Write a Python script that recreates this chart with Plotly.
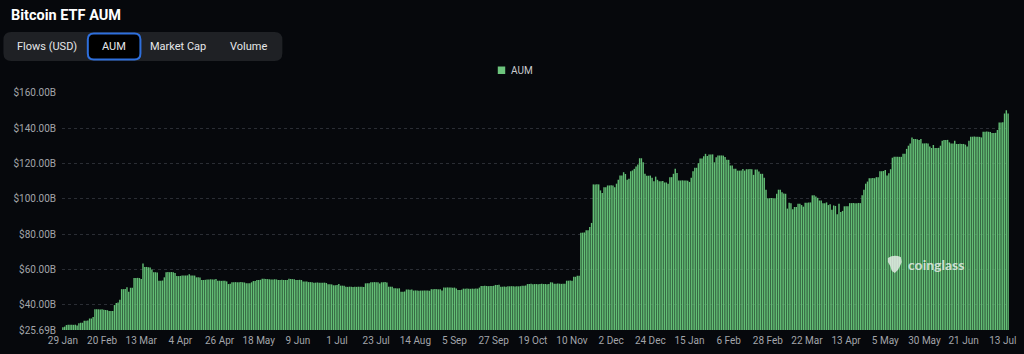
import plotly.graph_objects as go
import pandas as pd

# ---------------- data ----------------
all_days = pd.date_range("2024-01-29", "2025-07-16", freq="D")
missing_days = ["2025-05-11", "2025-05-18", "2025-05-25"]
dates = [d.strftime("%Y-%m-%d") for d in all_days if d.strftime("%Y-%m-%d") not in missing_days]

aum_billion = [
    # 2024-01-29 ...
    27.2, 27.6, 28.5, 28.7, 28.7, 28.7, 28.6, 28.7, 28.2, 29.5,
    29.8, 29.8, 30.9, 30.9, 31.0, 32.2, 32.2, 33.0, 37.4, 37.4,
    37.4, 37.3, 37.4, 37.2, 37.0, 36.9, 36.5, 36.5, 36.5, 39.8,
    41.0, 41.2, 42.8, 48.8, 48.8, 48.9, 49.9, 47.4, 49.6, 49.6,
    55.1, 55.1, 55.2, 55.1, 54.6, 63.3, 61.4, 61.4, 61.2, 61.0,
    59.9, 58.4, 58.4, 58.3, 53.6, 53.6, 53.7, 55.5, 58.4, 58.5,
    58.4, 58.5, 58.4, 58.0, 56.2, 56.2, 56.3, 56.6, 56.6, 56.5,
    56.6, 57.3, 56.6, 56.6, 56.5, 55.5, 55.5, 55.4, 54.0, 54.0,
    54.1, 54.3, 54.3, 54.4, 54.3, 54.3, 54.6, 53.6, 53.6, 53.5,
    53.6, 53.6, 53.2, 51.7, 51.8, 52.7, 52.7, 52.8, 52.7, 52.7,
    52.8, 52.7, 52.6, 52.1, 52.1, 52.1, 52.7, 53.4, 53.4, 54.0,
    54.0, 54.1, 54.7, 54.7, 54.6, 54.5, 54.4, 54.3, 54.3, 54.4,
    54.3, 54.0, 54.0, 54.1, 54.0, 54.0, 54.0, 54.7, 54.5, 54.5,
    54.4, 54.0, 54.0, 54.1, 54.0, 53.2, 53.2, 53.1, 52.8, 52.8,
    52.7, 52.5, 52.5, 52.6, 52.5, 52.5, 52.4, 52.5, 52.3, 51.6,
    51.6, 51.5, 51.0, 51.0, 51.1, 51.7, 50.8, 50.8, 50.7, 50.1,
    50.1, 50.2, 50.1, 50.0, 50.1, 50.1, 50.2, 50.1, 50.1, 50.0,
    52.1, 52.2, 52.1, 52.7, 52.7, 52.8, 52.7, 52.7, 52.0, 52.7,
    52.7, 52.8, 52.6, 50.2, 50.2, 50.1, 49.3, 49.3, 49.2, 49.3,
    47.4, 47.4, 47.5, 48.6, 48.6, 48.5, 48.6, 48.0, 48.1, 48.0,
    47.9, 48.0, 48.0, 48.1, 48.0, 48.0, 47.9, 48.8, 48.8, 48.9,
    48.8, 48.7, 48.8, 48.0, 49.7, 49.7, 49.8, 49.7, 49.7, 49.6,
    49.7, 49.2, 48.4, 48.4, 48.5, 49.1, 49.1, 49.2, 49.1, 49.0,
    49.1, 49.1, 49.2, 49.1, 49.7, 50.6, 50.6, 50.7, 50.6, 50.5,
    50.6, 50.6, 50.7, 51.2, 51.2, 51.3, 50.2, 50.2, 50.3, 50.2,
    50.4, 50.4, 50.5, 50.4, 50.3, 50.4, 50.4, 50.5, 50.8, 50.8,
    50.9, 51.7, 51.7, 51.8, 51.6, 51.7, 51.7, 51.6, 51.7, 51.8,
    51.7, 51.7, 51.6, 51.7, 52.7, 52.6, 51.9, 51.9, 52.0, 51.9,
    51.8, 51.9, 51.9, 53.6, 53.6, 53.7, 53.6, 55.8, 55.8, 56.4,
    56.4, 80.8, 80.8, 80.9, 82.1, 82.1, 84.0, 86.3, 108.1, 108.1,
    108.2, 108.1, 104.7, 103.2, 106.5, 106.5, 107.5, 107.5, 107.6, 107.5,
    106.5, 108.5, 110.7, 113.1, 113.1, 115.0, 114.0, 110.7, 111.3, 115.6,
    116.0, 116.9, 118.2, 119.3, 122.9, 122.9, 120.6, 114.1, 113.0, 113.0,
    113.1, 111.8, 109.9, 112.5, 110.7, 109.9, 109.9, 110.0, 109.2, 109.2,
    108.5, 112.2, 112.2, 114.1, 116.9, 114.5, 110.3, 110.3, 110.4, 110.3,
    110.3, 110.2, 109.5, 111.8, 115.6, 117.5, 117.5, 120.1, 122.7, 122.7,
    124.0, 125.4, 124.2, 125.0, 125.0, 125.1, 120.6, 123.5, 124.4, 124.4,
    124.5, 124.4, 123.6, 122.0, 122.0, 118.8, 118.8, 116.9, 116.9, 115.9,
    115.9, 116.0, 116.8, 115.9, 116.7, 116.7, 116.8, 116.7, 113.5, 116.5,
    116.5, 115.4, 114.1, 114.1, 111.8, 105.1, 100.3, 100.3, 100.4, 100.3,
    100.3, 102.8, 105.1, 105.1, 103.7, 103.0, 102.8, 94.4, 97.7, 97.5,
    94.1, 95.3, 95.3, 97.2, 97.2, 96.4, 95.5, 97.7, 97.7, 97.8,
    97.9, 101.9, 101.9, 101.2, 100.5, 99.0, 99.0, 97.5, 97.5, 97.9,
    96.4, 96.8, 93.8, 96.2, 95.9, 91.2, 97.2, 92.5, 93.1, 95.7,
    95.7, 95.8, 97.5, 97.5, 97.6, 97.5, 97.5, 97.6, 97.5, 101.9,
    105.1, 108.5, 109.7, 111.6, 111.6, 111.7, 111.6, 112.2, 112.2, 115.6,
    115.6, 115.7, 116.3, 113.1, 114.4, 116.7, 123.2, 123.7, 123.7, 123.8,
    123.7, 123.7, 125.4, 125.4, 128.2, 130.0, 131.3, 134.7, 133.8, 133.8,
    133.6, 133.2, 133.8, 131.3, 131.3, 131.4, 131.3, 129.5, 128.7, 130.4,
    128.7, 128.7, 128.8, 130.0, 132.8, 133.2, 133.2, 133.3, 131.9, 131.3,
    131.3, 132.8, 131.0, 131.0, 131.1, 131.0, 131.0, 130.6, 129.5, 132.8,
    135.1, 135.1, 135.2, 135.1, 135.1, 135.0, 134.7, 137.9, 137.9, 138.0,
    137.9, 137.8, 137.2, 137.2, 137.3, 138.9, 143.2, 143.2, 143.3, 148.2,
    150.1, 148.2,
]
assert len(aum_billion) == len(dates), (len(aum_billion), len(dates))

tick_dates = dates[::22]
tick_labels = [f"{pd.Timestamp(d).day} {pd.Timestamp(d).strftime('%b')}" for d in tick_dates]
y_ticks = [25.69, 40, 60, 80, 100, 120, 140, 160]
y_tick_labels = ["$25.69B", "$40.00B", "$60.00B", "$80.00B", "$100.00B",
                 "$120.00B", "$140.00B", "$160.00B"]
tab_labels = ["Flows (USD)", "AUM", "Market Cap", "Volume"]
tab_centers_px = [47, 114, 179, 250]

# ---------------- layout geometry (pixels) ----------------
W, H = 1024, 354
L, R, T, B = 62, 8, 92, 24
PW, PH = W - L - R, H - T - B
BG = "#06080c"
GREEN = "rgba(100,192,118,0.99)"
FONT = "Roboto, 'Noto Sans', sans-serif"


def px(xp):
    return (xp - L) / PW


def py(yp):
    return (H - B - yp) / PH


def rounded_rect(x0, y0, x1, y1, r):
    rx = r / PW
    ry = r / PH
    X0, X1 = px(x0), px(x1)
    Y0, Y1 = py(y0), py(y1)  # Y0 top (larger), Y1 bottom
    return (f"M{X0+rx},{Y0} L{X1-rx},{Y0} Q{X1},{Y0} {X1},{Y0-ry} "
            f"L{X1},{Y1+ry} Q{X1},{Y1} {X1-rx},{Y1} L{X0+rx},{Y1} "
            f"Q{X0},{Y1} {X0},{Y1+ry} L{X0},{Y0-ry} Q{X0},{Y0} {X0+rx},{Y0} Z")


fig = go.Figure()
fig.add_trace(go.Bar(
    x=dates, y=aum_billion, name="AUM",
    marker=dict(color=GREEN, line=dict(width=0)),
    showlegend=False,
    hovertemplate="%{x}<br>$%{y:.2f}B<extra></extra>",
))

shapes = [
    dict(type="path", xref="paper", yref="paper", path=rounded_rect(3, 32, 284, 61, 8),
         fillcolor="#1f2125", line=dict(width=0), layer="above"),
    dict(type="path", xref="paper", yref="paper", path=rounded_rect(88, 33.5, 141, 59.5, 6),
         fillcolor="#000000", line=dict(color="#2e6fdc", width=2), layer="above"),
    # legend swatch
    dict(type="rect", xref="paper", yref="paper", x0=px(501), x1=px(508.5), y0=py(74), y1=py(66.5),
         fillcolor="#6cc47d", line=dict(width=0), layer="above"),
    # watermark logo (approximate)
    dict(type="path", xref="paper", yref="paper",
         path=(f"M{px(894)},{py(258)} Q{px(900)},{py(254)} {px(907)},{py(257)} "
               f"L{px(908)},{py(262)} Q{px(906)},{py(267)} {px(904)},{py(270)} "
               f"L{px(901)},{py(273)} L{px(898)},{py(271)} Q{px(897)},{py(266)} {px(894)},{py(262)} Z"),
         fillcolor="rgba(235,240,236,0.8)", line=dict(width=0), layer="above"),
]

annotations = [
    dict(text="<b>Bitcoin ETF AUM</b>", xref="paper", yref="paper", x=px(9), y=py(15),
         xanchor="left", yanchor="middle", showarrow=False,
         font=dict(family=FONT, size=14.5, color="#ffffff")),
    dict(text="AUM", xref="paper", yref="paper", x=px(512.5), y=py(70.5),
         xanchor="left", yanchor="middle", showarrow=False,
         font=dict(family=FONT, size=10, color="#c9cbcf")),
    dict(text="<b>coinglass</b>", xref="paper", yref="paper", x=px(912), y=py(264),
         xanchor="left", yanchor="middle", showarrow=False,
         font=dict(family="Lato, Roboto, sans-serif", size=14, color="rgba(235,240,236,0.82)")),
]
for lbl, cx in zip(tab_labels, tab_centers_px):
    annotations.append(dict(text=lbl, xref="paper", yref="paper", x=px(cx), y=py(46.5),
                            xanchor="center", yanchor="middle", showarrow=False,
                            font=dict(family=FONT, size=11, color="#e6e7e9")))

fig.update_layout(
    width=W, height=H, autosize=False,
    margin=dict(l=L, r=R, t=T, b=B, pad=0),
    paper_bgcolor=BG, plot_bgcolor=BG,
    bargap=0.2,
    showlegend=False,
    shapes=shapes,
    annotations=annotations,
    xaxis=dict(
        type="category", tickmode="array", tickvals=tick_dates, ticktext=tick_labels,
        showgrid=False, zeroline=False, showline=False, ticks="",
        range=[-0.5, len(dates) - 0.5], fixedrange=True,
        tickfont=dict(family=FONT, size=10, color="#a3a5aa"),
        tickangle=0, ticklabelstandoff=3,
    ),
    yaxis=dict(
        range=[25.69, 160.4], tickmode="array", tickvals=y_ticks, ticktext=y_tick_labels,
        showgrid=True, gridcolor="#2a2d34", griddash="3px,3px", gridwidth=1,
        zeroline=False, showline=False, ticks="", ticklabelstandoff=5, fixedrange=True,
        tickfont=dict(family=FONT, size=10, color="#a3a5aa"),
    ),
)

fig.write_html("out.html")
